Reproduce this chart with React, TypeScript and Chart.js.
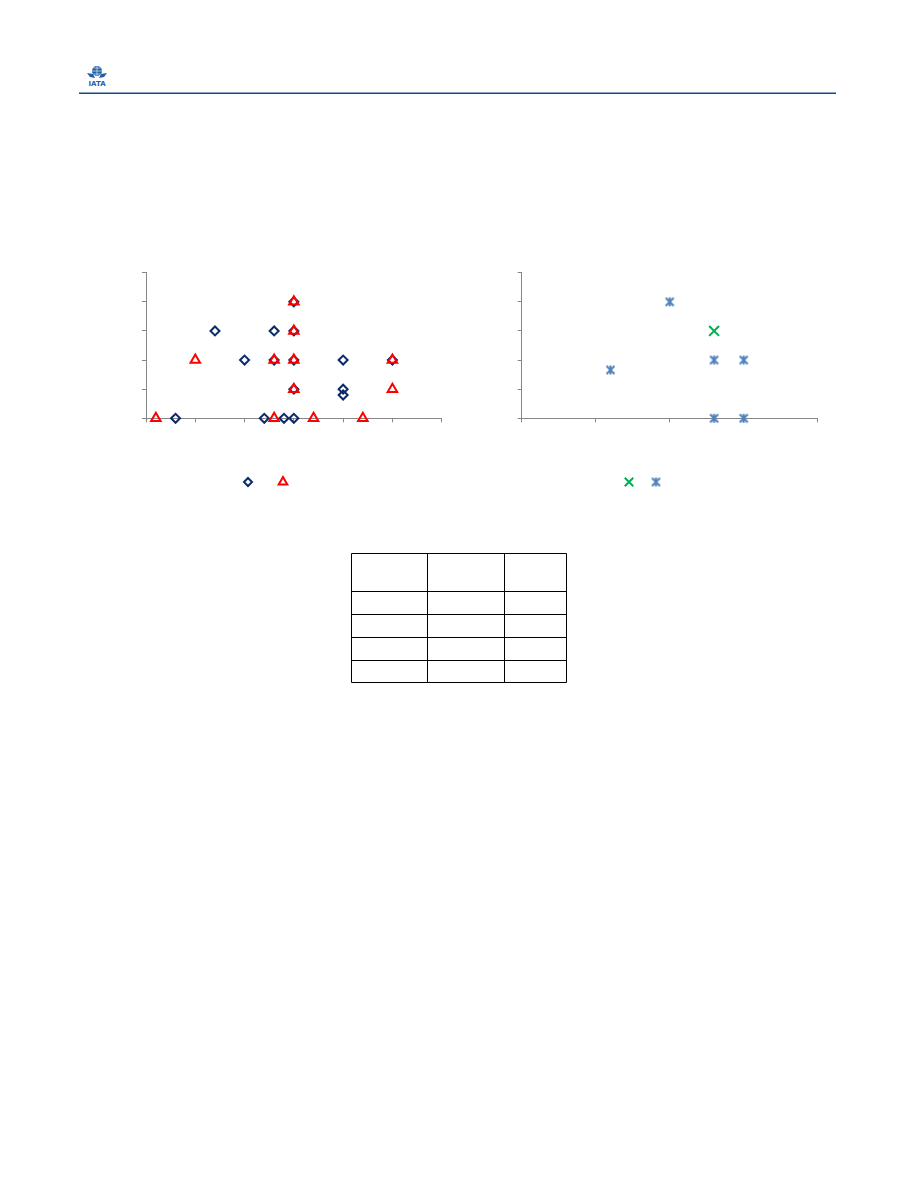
import React, { useEffect, useRef } from "react";
import { Chart, registerables } from "chart.js";
import { drawPoint } from "chart.js/helpers";

Chart.register(...registerables);

// ---- Data (left chart) ----
const leftDiamondX = [0.6, 1.4, 2.0, 2.6, 2.4, 2.8, 3.0, 3.0, 3.0, 3.0, 3.0, 2.6, 4.0, 4.0, 4.0, 5.0];
const leftDiamondY = [0, 3, 2, 3, 0, 0, 0, 4, 3, 2, 1, 2, 2, 1, 0.8, 2];
const leftTriangleX = [0.2, 1.0, 2.6, 2.6, 3.0, 3.0, 3.0, 3.0, 3.4, 4.4, 5.0, 5.0];
const leftTriangleY = [0, 2, 2, 0, 4, 3, 2, 1, 0, 0, 2, 1];

// ---- Data (right chart) ----
const rightCrossX = [2.6];
const rightCrossY = [3];
const rightStarX = [1.2, 2.0, 2.6, 3.0, 2.6, 3.0];
const rightStarY = [1.66, 4, 2, 2, 0, 0];

// ---- Axis ranges ----
const leftXRange = [0, 6];
const leftYRange = [0, 5];
const rightXRange = [0, 4];
const rightYRange = [0, 5];

const toPoints = (xs: number[], ys: number[]) => xs.map((x, i) => ({ x, y: ys[i] }));

const AXIS = "#868686";
const CANVAS_W = 370;
const CANVAS_H = 250;

function makeStarImage(color: string) {
  const c = document.createElement("canvas");
  c.width = 11;
  c.height = 11;
  const g = c.getContext("2d")!;
  g.strokeStyle = color;
  g.lineWidth = 2;
  g.beginPath();
  g.moveTo(1.5, 1.5);
  g.lineTo(9.5, 9.5);
  g.moveTo(9.5, 1.5);
  g.lineTo(1.5, 9.5);
  g.moveTo(5.5, 1);
  g.lineTo(5.5, 10);
  g.stroke();
  return c;
}

const markerLegend = {
  id: "markerLegend",
  afterDraw(chart: any, _args: any, opts: any) {
    const ctx = chart.ctx;
    (opts.items || []).forEach((it: any) => {
      const ds = chart.data.datasets[it.datasetIndex];
      ctx.save();
      ctx.fillStyle = ds.pointBackgroundColor;
      ctx.strokeStyle = ds.pointBorderColor;
      ctx.lineWidth = ds.pointBorderWidth;
      drawPoint(ctx, { pointStyle: ds.pointStyle, radius: it.radius ?? ds.pointRadius, rotation: 0, borderWidth: ds.pointBorderWidth }, it.x, it.y);
      ctx.restore();
    });
  },
};

function scales(xr: number[], yr: number[]) {
  const common = {
    type: "linear",
    grid: { drawOnChartArea: false, drawTicks: true, tickLength: 4, color: AXIS, lineWidth: 1 },
    border: { color: AXIS, width: 1 },
  };
  return {
    x: {
      ...common,
      min: xr[0],
      max: xr[1],
      ticks: { stepSize: 1, display: false },
      afterFit: (s: any) => {
        s.height = 20;
      },
    },
    y: {
      ...common,
      min: yr[0],
      max: yr[1],
      ticks: { stepSize: 1, display: false },
      afterFit: (s: any) => {
        s.width = 20;
      },
    },
  };
}

function ScatterCanvas({ config, style }: { config: () => any; style: React.CSSProperties }) {
  const ref = useRef<HTMLCanvasElement>(null);
  useEffect(() => {
    const chart = new Chart(ref.current!, config());
    return () => chart.destroy();
  }, []);
  return (
    <div style={{ position: "absolute", width: CANVAS_W, height: CANVAS_H, ...style }}>
      <canvas ref={ref} width={CANVAS_W} height={CANVAS_H} style={{ width: CANVAS_W, height: CANVAS_H, display: "block" }} />
    </div>
  );
}

const leftConfig = () => ({
  type: "scatter",
  data: {
    datasets: [
      {
        data: toPoints(leftDiamondX, leftDiamondY),
        order: 1,
        clip: false,
        pointStyle: "rectRot",
        pointRadius: 4.5,
        pointBorderWidth: 2,
        pointBorderColor: "#0b2a6b",
        pointBackgroundColor: "rgba(255,255,255,0)",
      },
      {
        data: toPoints(leftTriangleX, leftTriangleY),
        order: 0,
        clip: false,
        pointStyle: "triangle",
        pointRadius: 5.5,
        pointBorderWidth: 2,
        pointBorderColor: "#ff0000",
        pointBackgroundColor: "rgba(255,255,255,0)",
      },
    ],
  },
  options: {
    animation: false,
    responsive: false,
    layout: { padding: { left: 26, top: 22.7, right: 28.3, bottom: 61.7 } },
    scales: scales(leftXRange, leftYRange),
    plugins: {
      legend: { display: false },
      tooltip: { enabled: false },
      markerLegend: {
        items: [
          { datasetIndex: 0, x: 148, y: 232, radius: 4 },
          { datasetIndex: 1, x: 183, y: 232, radius: 5 },
        ],
      },
    },
  },
  plugins: [markerLegend],
});

const rightConfig = () => {
  const star = makeStarImage("#4f81bd");
  return {
    type: "scatter",
    data: {
      datasets: [
        {
          data: toPoints(rightCrossX, rightCrossY),
          clip: false,
          pointStyle: "crossRot",
          pointRadius: 7,
          pointBorderWidth: 2,
          pointBorderColor: "#00b050",
          pointBackgroundColor: "#00b050",
        },
        {
          data: toPoints(rightStarX, rightStarY),
          clip: false,
          pointStyle: star,
          pointRadius: 5,
          pointBorderWidth: 2,
          pointBorderColor: "#4f81bd",
          pointBackgroundColor: "#4f81bd",
        },
      ],
    },
    options: {
      animation: false,
      responsive: false,
      layout: { padding: { left: 21.7, top: 22.7, right: 32.3, bottom: 61.7 } },
      scales: scales(rightXRange, rightYRange),
      plugins: {
        legend: { display: false },
        tooltip: { enabled: false },
        markerLegend: {
          items: [
            { datasetIndex: 0, x: 149, y: 232, radius: 6 },
            { datasetIndex: 1, x: 176, y: 232 },
          ],
        },
      },
    },
    plugins: [markerLegend],
  };
};

// table grid lines (page coordinates)
const tableCols = [351.5, 427.5, 504.5, 566.5];
const tableRows = [553.5, 591.5, 614.5, 637.5, 660.5, 682.5];

export default function App() {
  return (
    <div>
      {/* header */}
      <svg style={{ position: "absolute", left: 0, top: 0 }} width={918} height={110}>
        <g>
          <circle cx={97} cy={71} r={5} fill="#1f5fa6" />
          <path d="M92 71 H102 M97 66 V76 M93.5 68 H100.5 M93.5 74 H100.5" stroke="#ffffff" strokeWidth={0.6} />
          <path d="M87 73 L93 74 L95 78 L90 77 Z" fill="#1f5fa6" />
          <path d="M107 73 L101 74 L99 78 L104 77 Z" fill="#1f5fa6" />
          <text x={97} y={86} textAnchor="middle" fontFamily="DejaVu Sans, sans-serif" fontWeight="bold" fontSize={7} fill="#1f5fa6">
            IATA
          </text>
        </g>
        <rect x={79} y={92.5} width={757} height={1.5} fill="#144b86" />
      </svg>

      <ScatterCanvas config={leftConfig} style={{ left: 100, top: 250 }} />
      <ScatterCanvas config={rightConfig} style={{ left: 480, top: 250 }} />

      {/* empty table */}
      <svg style={{ position: "absolute", left: 0, top: 540 }} width={918} height={160}>
        <g transform="translate(0,-540)" stroke="#000000" strokeWidth={1}>
          {tableCols.map((x, i) => (
            <line key={"c" + i} x1={x} y1={tableRows[0]} x2={x} y2={tableRows[tableRows.length - 1]} />
          ))}
          {tableRows.map((y, i) => (
            <line key={"r" + i} x1={tableCols[0]} y1={y} x2={tableCols[tableCols.length - 1]} y2={y} />
          ))}
        </g>
      </svg>
    </div>
  );
}
